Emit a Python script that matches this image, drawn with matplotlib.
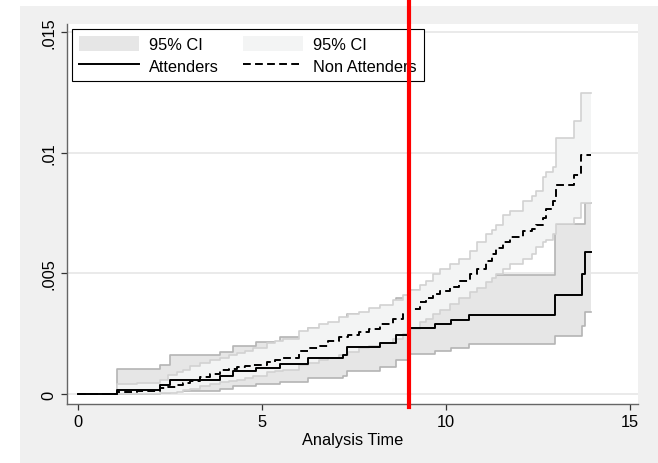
import numpy as np
import matplotlib
matplotlib.use('Agg')
import matplotlib.pyplot as plt
from matplotlib.patches import Patch, Rectangle
from matplotlib.lines import Line2D

plt.rcParams['font.family'] = ['Liberation Sans', 'DejaVu Sans']

# Attenders: failure estimate and 95% CI (step values after each time)
att_t = [0, 1.05, 2.23, 2.5, 3.86, 4.22, 4.85, 5.49, 6.26, 7.21, 7.3, 8.2, 8.63,
         9.02, 9.7, 10.15, 10.63, 12.96, 13.71, 13.77, 13.93]
att_est = [0, 0.00015, 0.00036, 0.00059, 0.00077, 0.00095, 0.00109, 0.00123, 0.0015,
           0.00164, 0.00194, 0.0021, 0.00244, 0.00273, 0.0029, 0.00307, 0.00327,
           0.00412, 0.00497, 0.00588, 0.00588]
att_lo = [0, 0.00002, 0.00005, 0.00012, 0.00022, 0.00032, 0.00042, 0.0005, 0.00065,
          0.00075, 0.00095, 0.00112, 0.0014, 0.00165, 0.0018, 0.0019, 0.00208,
          0.00242, 0.00284, 0.00339, 0.00339]
att_hi = [0, 0.00105, 0.00119, 0.0016, 0.00174, 0.00201, 0.00215, 0.00236, 0.00274,
          0.003, 0.00332, 0.0036, 0.004, 0.0043, 0.0045, 0.0047, 0.00495,
          0.00703, 0.00703, 0.0079, 0.0079]

# Non attenders
na_t = [0, 1.05, 1.6, 2.23, 2.45, 2.68, 2.85, 3.04, 3.32, 3.59, 3.86, 4.1, 4.31, 4.55,
        4.76, 5.13, 5.35, 5.58, 6.0, 6.25, 6.55, 6.8, 7.1, 7.35, 7.64, 7.9, 8.2, 8.56,
        8.83, 8.97, 9.29, 9.45, 9.65, 9.85, 10.1, 10.35, 10.65, 10.85, 11.1, 11.25,
        11.37, 11.55, 11.73, 12.09, 12.35, 12.44, 12.63, 12.71, 12.9, 12.99, 13.49,
        13.67, 13.93]
na_est = [0, 0.00008, 0.00012, 0.00026, 0.0003, 0.00036, 0.00045, 0.00056, 0.0007,
          0.00084, 0.001, 0.00106, 0.00112, 0.00116, 0.00119, 0.00132, 0.0014, 0.00148,
          0.0018, 0.0019, 0.002, 0.0022, 0.00236, 0.00246, 0.00256, 0.0027, 0.0029,
          0.00311, 0.00332, 0.00352, 0.0038, 0.00398, 0.00414, 0.00428, 0.00442,
          0.0047, 0.00497, 0.0052, 0.00552, 0.0058, 0.00607, 0.0063, 0.00649, 0.00676,
          0.00683, 0.007, 0.00731, 0.00766, 0.008, 0.00867, 0.00908, 0.0099, 0.0099]
na_lo = [0, 0.0, 0.00001, 0.00003, 0.00005, 0.0001, 0.00015, 0.00022, 0.00035, 0.00042,
         0.0005, 0.00055, 0.0006, 0.00068, 0.00075, 0.0009, 0.00095, 0.001, 0.0012,
         0.0013, 0.0014, 0.0015, 0.0016, 0.00175, 0.0019, 0.002, 0.0021, 0.0023,
         0.0025, 0.0027, 0.003, 0.0031, 0.00332, 0.0035, 0.00373, 0.004, 0.00421,
         0.0044, 0.00463, 0.0048, 0.00497, 0.0052, 0.00538, 0.0056, 0.0058, 0.0061,
         0.0063, 0.0064, 0.00662, 0.00703, 0.0073, 0.0079, 0.0079]
na_hi = [0, 0.0004, 0.00045, 0.0006, 0.0008, 0.0009, 0.001, 0.00115, 0.0013, 0.0014,
         0.0015, 0.0016, 0.0017, 0.0018, 0.0019, 0.0021, 0.0022, 0.0023, 0.0026,
         0.00275, 0.0029, 0.003, 0.0032, 0.0033, 0.0034, 0.00355, 0.0037, 0.0039,
         0.0041, 0.0043, 0.0045, 0.0047, 0.00497, 0.0052, 0.00538, 0.0056, 0.00593,
         0.0063, 0.00662, 0.0068, 0.007, 0.0074, 0.0076, 0.008, 0.0082, 0.0084, 0.009,
         0.0092, 0.0094, 0.0106, 0.01131, 0.01248, 0.01248]

yticks = [0, 0.005, 0.01, 0.015]
ytick_labels = ['0', '.005', '.01', '.015']
xticks = [0, 5, 10, 15]
cutoff = 9

fs = 11.8
fig = plt.figure(figsize=(6.58, 4.64), dpi=100)
fig.patch.set_facecolor('white')
fig.patches.append(Rectangle((20 / 658, 0), 638 / 658, 457 / 464, transform=fig.transFigure,
                             facecolor='#f0f0f0', edgecolor='none', zorder=-10))
ax = fig.add_axes([67 / 658, 1 - 405 / 464, 571 / 658, 380 / 464])
ax.set_facecolor('white')

dark_fill, dark_edge = '#e6e6e6', '#b4b4b4'
light_fill, light_edge = '#f3f4f4', '#d2d2d2'

ax.fill_between(att_t, att_lo, att_hi, step='post', color=dark_fill, lw=0, zorder=2)
ax.step(att_t, att_lo, where='post', color=dark_edge, lw=1.2, zorder=2)
ax.step(att_t, att_hi, where='post', color=dark_edge, lw=1.2, zorder=2)

ax.fill_between(na_t, na_lo, na_hi, step='post', color=light_fill, lw=0, zorder=3)
ax.step(na_t, na_lo, where='post', color=light_edge, lw=1.2, zorder=3)
ax.step(na_t, na_hi, where='post', color=light_edge, lw=1.2, zorder=3)

ax.step(att_t, att_est, where='post', color='black', lw=1.4, zorder=4)
ax.step(na_t, na_est, where='post', color='black', lw=1.4, ls=(0, (4, 2.2)), zorder=4)

ax.set_xlim(-0.3, 15.22)
ax.set_ylim(-0.00041, 0.01533)
ax.set_xticks(xticks)
ax.set_yticks(yticks)
ax.set_yticklabels(ytick_labels, rotation=90, va='center')
ax.grid(axis='y', color='#e4e4e4', lw=1.1, zorder=0)
ax.set_axisbelow(True)
for s in ['top', 'right']:
    ax.spines[s].set_visible(False)
for s in ['left', 'bottom']:
    ax.spines[s].set_color('#666666')
    ax.spines[s].set_linewidth(1.0)
ax.tick_params(colors='#333333', labelsize=fs, length=4, width=0.9, labelcolor='black')
ax.set_xlabel('Analysis Time', fontsize=fs, labelpad=2)

handles = [Patch(facecolor=dark_fill, edgecolor='none'),
           Line2D([], [], color='black', lw=1.4),
           Patch(facecolor=light_fill, edgecolor='none'),
           Line2D([], [], color='black', lw=1.4, ls=(0, (4, 2.2)))]
labels = ['95% CI', 'Attenders', '95% CI', 'Non Attenders']
leg = ax.legend(handles, labels, ncol=2, loc='upper left', bbox_to_anchor=(0.009, 0.987),
                borderaxespad=0, fontsize=fs, handlelength=3.66, handleheight=1.05,
                handletextpad=0.6, columnspacing=1.5, fancybox=False, framealpha=1,
                edgecolor='black', borderpad=0.42, labelspacing=0.33)
leg.get_frame().set_linewidth(0.8)
leg.set_zorder(5)

ax.axvline(cutoff, ymin=-0.008, ymax=1.066, color='#ff0000', lw=3, clip_on=False, zorder=6)

fig.savefig('out.png', dpi=100)
